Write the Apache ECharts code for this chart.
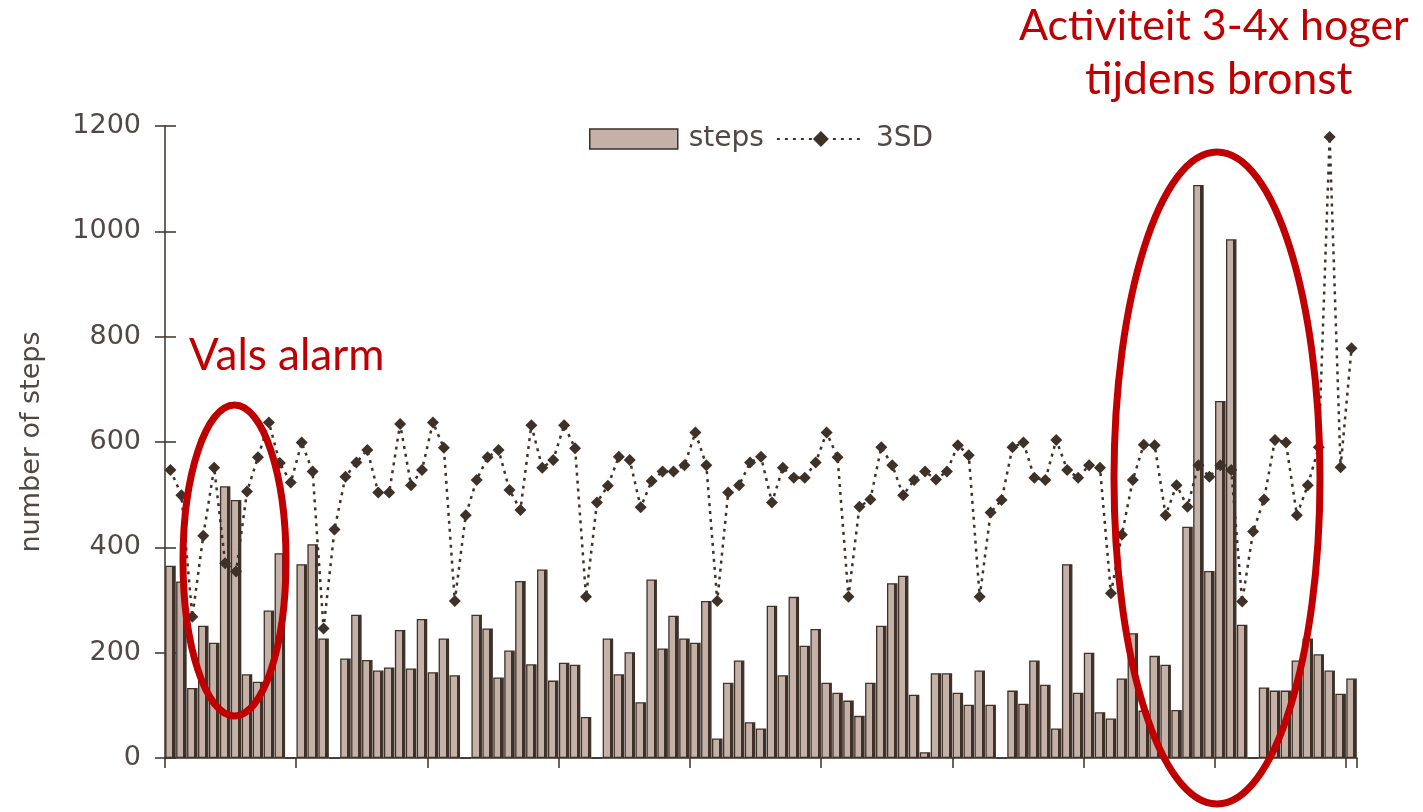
<!DOCTYPE html>
<html>
<head>
<meta charset="utf-8">
<script src="https://cdn.jsdelivr.net/npm/echarts@6/dist/echarts.min.js"></script>
<style>
html,body{margin:0;padding:0;background:#fff;}
#c{width:1423px;height:812px;}
</style>
</head>
<body>
<div id="c"></div>
<script>
// ---- data ----
const steps = [365,335,133,251,219,516,490,159,145,280,389,0,
  368,406,227,0,189,272,186,166,172,243,170,264,163,227,157,0,
  272,246,153,204,336,178,358,147,181,177,78,0,
  227,159,201,106,339,208,270,227,219,298,37,
  143,185,68,56,289,157,306,213,245,143,124,109,80,
  143,251,332,346,120,11,161,161,124,101,166,101,0,
  128,103,185,139,56,368,124,200,87,75,151,237,
  90,194,177,91,439,1088,355,678,985,253,0,
  134,128,128,185,227,197,166,122,151];
const sd3 = [547,499,268,422,551,370,354,506,571,637,560,523,
  599,544,246,434,534,561,585,504,504,634,518,547,637,589,298,461,
  528,571,585,509,471,632,551,566,632,588,306,485,
  517,572,566,476,526,544,544,556,618,556,298,
  504,518,561,572,485,551,532,532,561,618,571,306,477,
  491,590,556,499,528,544,529,544,594,575,306,466,490,
  590,599,532,528,604,547,532,556,551,313,424,528,
  595,594,461,518,477,556,534,556,547,297,430,
  491,604,599,461,518,590,1179,552,778];
const categories = steps.map((_, i) => String(i + 1));
const yTicks = [0, 200, 400, 600, 800, 1000, 1200];

const DARK = '#3e3128';
const FILL = '#c4b1a7';
const RED = '#c00000';
const TXT = '#514845';

const barFill = {
  type: 'linear', x: 0, y: 0, x2: 1, y2: 0,
  colorStops: [
    {offset: 0, color: FILL}, {offset: 0.68, color: FILL},
    {offset: 0.68, color: DARK}, {offset: 1, color: DARK}
  ]
};

const chart = echarts.init(document.getElementById('c'), null, {renderer: 'canvas'});
const option = {
  animation: false,
  backgroundColor: '#ffffff',
  grid: {left: 165, right: 66, top: 126, bottom: 54, containLabel: false},
  legend: {
    left: 584, top: 120,
    itemWidth: 88, itemHeight: 20, itemGap: 12,
    textStyle: {fontFamily: 'DejaVu Sans', fontSize: 28, color: TXT, padding: [0, 0, 0, 6]},
    data: [
      {name: 'steps', icon: 'rect', itemStyle: {color: FILL, borderColor: DARK, borderWidth: 1.5}},
      {name: '3SD'}
    ]
  },
  xAxis: {
    type: 'category',
    data: categories,
    boundaryGap: true,
    axisLine: {lineStyle: {color: DARK, width: 1.5}},
    axisTick: {show: true, interval: (idx) => idx % 12 === 0, length: 10, lineStyle: {color: DARK, width: 1.5}},
    axisLabel: {show: false},
    splitLine: {show: false}
  },
  yAxis: [{
    type: 'value', min: yTicks[0], max: yTicks[yTicks.length - 1], interval: 200,
    name: 'number of steps', nameLocation: 'middle', nameGap: 120, nameRotate: 90,
    nameTextStyle: {fontFamily: 'DejaVu Sans', fontSize: 27, color: TXT},
    axisLine: {show: true, lineStyle: {color: DARK, width: 1.5}},
    axisTick: {show: true, length: 10, lineStyle: {color: DARK, width: 1.5}},
    axisLabel: {fontFamily: 'DejaVu Sans', fontSize: 27, color: TXT, margin: 24,
      formatter: v => String(v)},
    splitLine: {show: false}
  }, {
    type: 'value', min: yTicks[0], max: yTicks[yTicks.length - 1], interval: 200, position: 'left',
    axisLine: {show: false},
    axisTick: {show: true, inside: true, length: 11, lineStyle: {color: DARK, width: 1.5}},
    axisLabel: {show: false},
    splitLine: {show: false}
  }],
  series: [{
    name: 'steps', type: 'bar', data: steps, barWidth: 10.5,
    itemStyle: {color: barFill, borderColor: DARK, borderWidth: 1.3},
    z: 2
  }, {
    name: '3SD', type: 'line', data: sd3,
    symbol: 'diamond', symbolSize: 12, showAllSymbol: true,
    itemStyle: {color: DARK},
    lineStyle: {color: DARK, width: 2.5, type: [3, 5]},
    z: 3
  }],
  graphic: [
    {type: 'ellipse', z: 100, shape: {cx: 234.5, cy: 560.5, rx: 51.5, ry: 155.5},
      style: {fill: 'none', stroke: RED, lineWidth: 7}},
    {type: 'ellipse', z: 100, shape: {cx: 1217, cy: 478, rx: 103, ry: 326},
      style: {fill: 'none', stroke: RED, lineWidth: 7}},
    {type: 'text', z: 100, left: 189, top: 334,
      style: {text: 'Vals alarm', fill: RED, font: '44px Lato'}},
    {type: 'text', z: 100, left: 1019, top: 5,
      style: {text: 'Activiteit 3-4x hoger', fill: RED, font: '43px Lato'}},
    {type: 'text', z: 100, left: 1085, top: 57,
      style: {text: 'tijdens bronst', fill: RED, font: '44.5px Lato'}}
  ]
};
chart.setOption(option);
</script>
</body>
</html>
